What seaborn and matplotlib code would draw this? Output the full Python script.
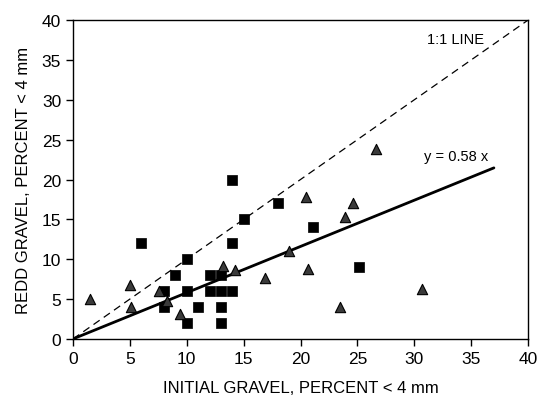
import matplotlib
matplotlib.use("Agg")
import matplotlib.pyplot as plt
import numpy as np
import pandas as pd
import seaborn as sns

# Redd gravel vs initial gravel (percent < 4 mm)
square_x = [6, 10, 9, 8, 8, 10, 10, 11, 14, 18, 15, 21.1, 14, 12, 13, 12, 13, 14, 13, 13, 25.1]
square_y = [12, 10, 8, 6, 4, 6, 2, 4, 20, 17.1, 15, 14, 12, 8, 8, 6, 6, 6, 4, 2, 9]
triangle_x = [1.5, 5, 5.1, 7.6, 8.3, 9.4, 13.2, 14.2, 16.9, 19.0, 20.5, 20.7, 23.9, 24.6, 26.6, 23.5, 30.7]
triangle_y = [5, 6.7, 4, 6, 4.8, 3.1, 9.1, 8.7, 7.6, 11, 17.8, 8.75, 15.3, 17.1, 23.8, 4, 6.2]
slope = 0.58
fit_x = [0, 37]
one_to_one = [0, 40]

sns.set_style("ticks")
plt.rcParams["font.family"] = ["Liberation Sans Narrow", "Liberation Sans", "DejaVu Sans"]
for key in ("text.color", "axes.labelcolor", "xtick.color", "ytick.color", "axes.edgecolor"):
    plt.rcParams[key] = "black"

fig = plt.figure(figsize=(5.41, 4.14), dpi=100)
ax = fig.add_axes([0.135, 0.179, 0.841, 0.770])

points = pd.DataFrame({
    "initial": square_x + triangle_x,
    "redd": square_y + triangle_y,
    "group": ["square"] * len(square_x) + ["triangle"] * len(triangle_x),
})
sns.scatterplot(data=points[points.group == "square"], x="initial", y="redd",
                marker="s", s=45, color="black", edgecolor="black", linewidth=0.5, ax=ax, zorder=3)
sns.scatterplot(data=points[points.group == "triangle"], x="initial", y="redd",
                marker="^", s=55, color="#3a3a3a", edgecolor="black", linewidth=0.8, ax=ax, zorder=3)

sns.lineplot(x=one_to_one, y=one_to_one, color="black", linewidth=0.9,
             linestyle=(0, (6, 4)), ax=ax)
sns.lineplot(x=fit_x, y=slope * np.array(fit_x), color="black", linewidth=2.0, ax=ax)

ax.text(33.6, 37.6, "1:1 LINE", fontsize=10.5, ha="center", va="center")
ax.text(33.7, 22.9, f"y = {slope} x", fontsize=10.5, ha="center", va="center")

ax.set_xlim(0, 40)
ax.set_ylim(0, 40)
ax.set_xticks(range(0, 41, 5))
ax.set_yticks(range(0, 41, 5))
ax.tick_params(labelsize=12.5, length=5, width=1, direction="out")
ax.set_xlabel("INITIAL GRAVEL, PERCENT < 4 mm", fontsize=12, labelpad=10)
ax.set_ylabel("REDD GRAVEL, PERCENT < 4 mm", fontsize=12, labelpad=8)
for side in ax.spines.values():
    side.set_visible(True)
    side.set_linewidth(1)

fig.savefig("out.png", dpi=100)
